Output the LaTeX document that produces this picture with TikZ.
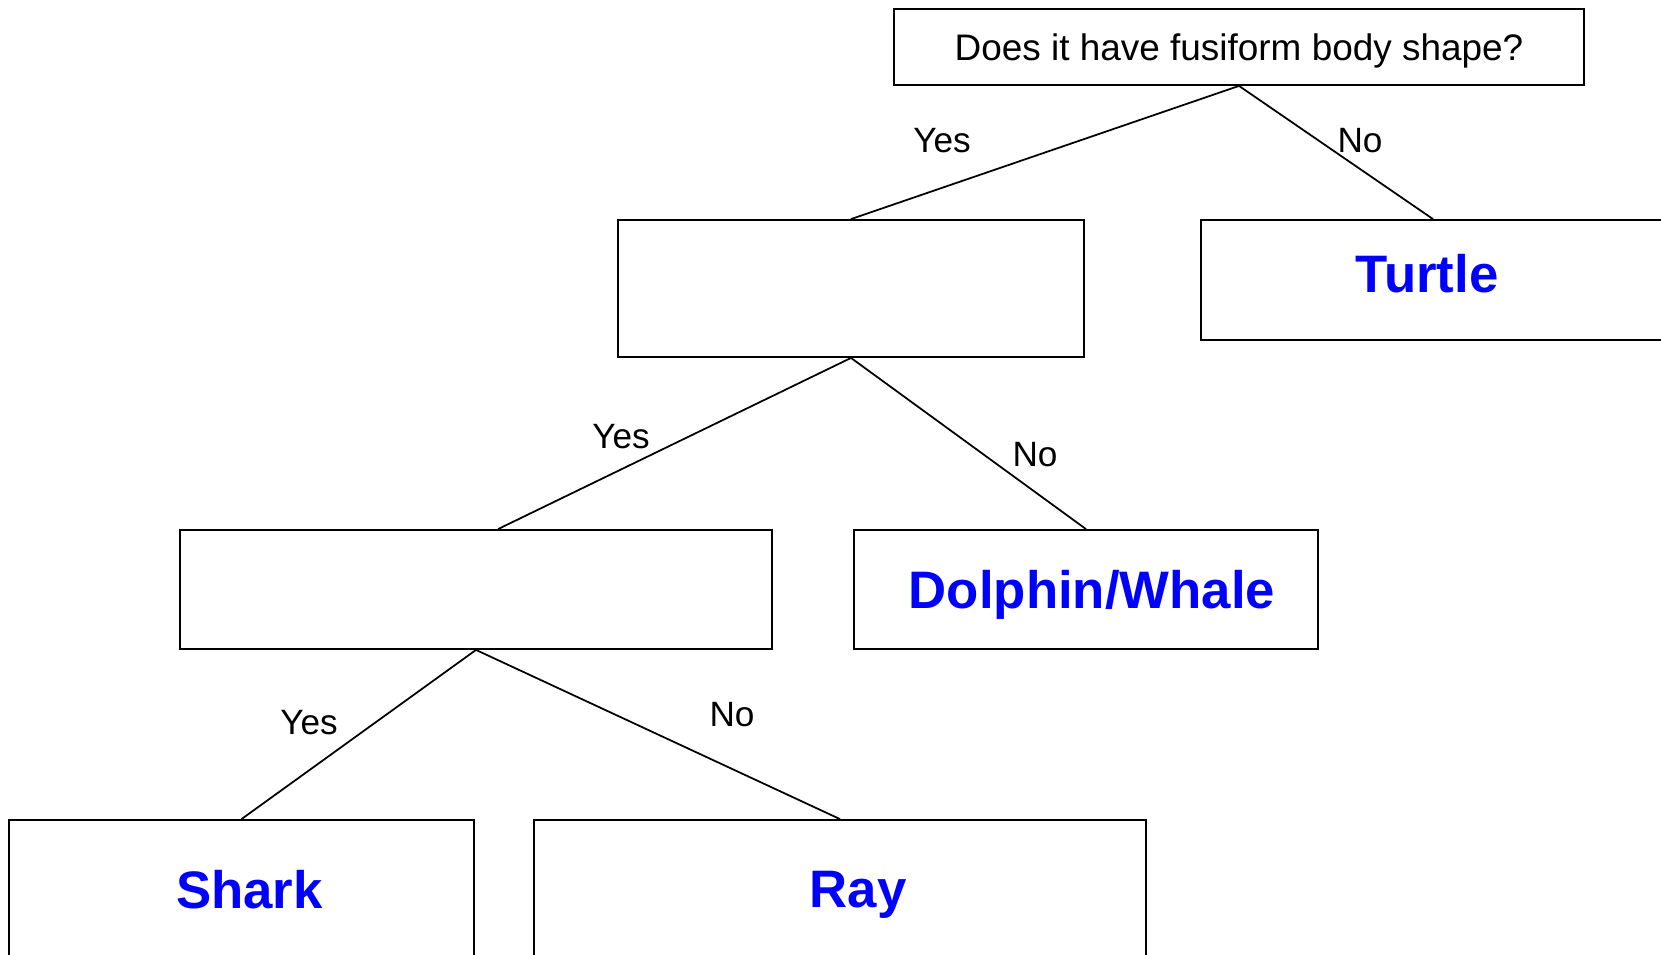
\documentclass[tikz,border=0pt]{standalone}
\usepackage{fontspec}
\setmainfont{Liberation Sans}
\definecolor{leafblue}{RGB}{0,0,255}

\begin{document}
\begin{tikzpicture}[x=0.01cm,y=-0.01cm,
    box/.style={draw,line width=0.5pt,inner sep=0pt,text depth=0pt},
    question/.style={box,font=\fontsize{10.5}{12}\selectfont},
    leaf/.style={inner sep=0pt,text depth=0pt,text=leafblue,font=\fontsize{15}{18}\selectfont\bfseries},
    answer/.style={inner sep=0pt,font=\fontsize{10}{12}\selectfont},
    branch/.style={line width=0.5pt}]
  \useasboundingbox (0,0) rectangle (1661,954);
  \clip (0,0) rectangle (1661,954);

% question boxes
  \node[question,minimum width=6.9cm,minimum height=0.76cm] (fusiform) at (1239,47) {Does it have fusiform body shape?};
  \node[box,minimum width=4.66cm,minimum height=1.37cm] (second) at (851,288.5) {};
  \node[box,minimum width=5.92cm,minimum height=1.19cm] (third) at (476,589.5) {};

% leaf boxes
  \node[box,minimum width=4.64cm,minimum height=1.2cm] (turtle) at (1433,280) {};
  \node[box,minimum width=4.64cm,minimum height=1.19cm] (dolphin) at (1086,589.5) {};
  \node[box,minimum width=4.64cm,minimum height=1.38cm] (shark) at (241.5,889) {};
  \node[box,minimum width=6.12cm,minimum height=1.38cm] (ray) at (840,889) {};
  \node[leaf] (turtletext) at ([xshift=-0.06cm,yshift=0.065cm]turtle.center) {Turtle};
  \node[leaf] (dolphintext) at ([xshift=0.06cm]dolphin.center) {Dolphin/Whale};
  \node[leaf] (sharktext) at ([xshift=0.08cm]shark.center) {Shark};
  \node[leaf] (raytext) at ([xshift=0.18cm]ray.center) {Ray};

% branches
  \draw[branch] (fusiform.south) -- (second.north);
  \draw[branch] (fusiform.south) -- (turtle.north);
  \draw[branch] (second.south) -- ([xshift=0.22cm]third.north);
  \draw[branch] (second.south) -- (dolphin.north);
  \draw[branch] (third.south) -- (shark.north);
  \draw[branch] (third.south) -- (ray.north);

% branch labels
  \node[answer] (yesA) at (942,141) {Yes};
  \node[answer] (noA) at (1360,141) {No};
  \node[answer] (yesB) at (621,437) {Yes};
  \node[answer] (noB) at (1035,455) {No};
  \node[answer] (yesC) at (309,723) {Yes};
  \node[answer] (noC) at (732,715) {No};

\end{tikzpicture}
\end{document}
